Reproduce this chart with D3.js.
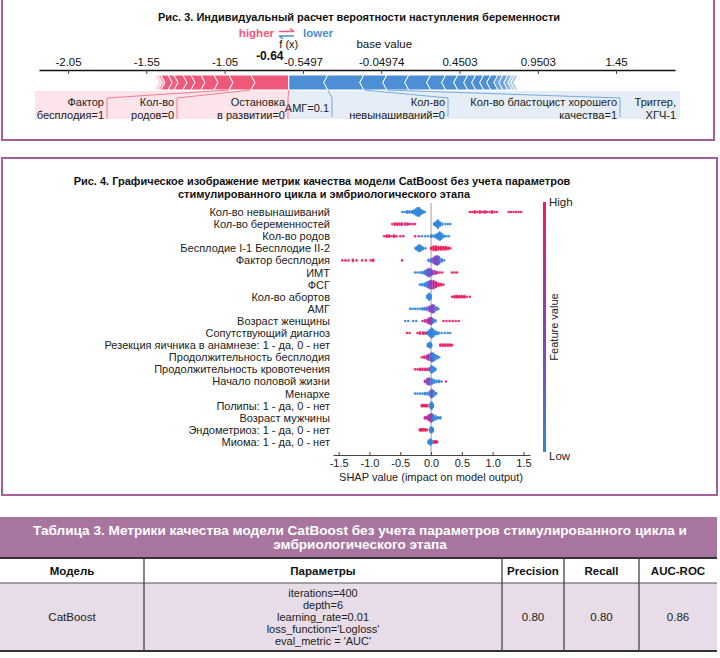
<!DOCTYPE html>
<html><head><meta charset="utf-8">
<script src="https://cdn.jsdelivr.net/npm/d3@7"></script>
<style>
body{margin:0;background:#fff}
svg{display:block;font-family:"Liberation Sans",Arial,sans-serif}
</style></head>
<body><svg id="c" width="720" height="658"></svg>
<script>
// ---------- DATA: Fig. 3 force plot ----------
const forceTicks = [-2.05, -1.55, -1.05, -0.5497, -0.04974, 0.4503, 0.9503, 1.45];
const forceTickLabels = ["-2.05", "-1.55", "-1.05", "-0.5497", "-0.04974", "0.4503", "0.9503", "1.45"];
const fxValue = -0.64;
const baseValue = -0.04974;
const redEffects = [0.243, 0.140, 0.096, 0.083, 0.064, 0.051, 0.057, 0.038, 0.045, 0.020, 0.015, 0.010, 0.006];
const blueEffects = [0.249, 0.230, 0.147, 0.140, 0.140, 0.096, 0.077, 0.064, 0.051, 0.051, 0.045, 0.045, 0.032, 0.032, 0.026, 0.019, 0.019];
const redLabels = [["Остановка", "в развитии=0"], ["Кол-во", "родов=0"], ["Фактор", "бесплодия=1"]];
const blueLabels = [["АМГ=0.1"], ["Кол-во", "невынашиваний=0"], ["Кол-во бластоцист хорошего", "качества=1"], ["Триггер,", "ХГЧ-1"]];

// ---------- DATA: Fig. 4 SHAP summary ----------
const shapFeatures = ["Кол-во невынашиваний", "Кол-во беременностей", "Кол-во родов", "Бесплодие I-1 Бесплодие II-2",
  "Фактор бесплодия", "ИМТ", "ФСГ", "Кол-во абортов", "АМГ", "Возраст женщины", "Сопутствующий диагноз",
  "Резекция яичника в анамнезе: 1 - да, 0 - нет", "Продолжительность бесплодия", "Продолжительность кровотечения",
  "Начало половой жизни", "Менархе", "Полипы: 1 - да, 0 - нет", "Возраст мужчины", "Эндометриоз: 1 - да, 0 - нет",
  "Миома: 1 - да, 0 - нет"];
const shapTicks = [-1.5, -1.0, -0.5, 0.0, 0.5, 1.0, 1.5];
const shapTickLabels = ["-1.5", "-1.0", "-0.5", "0.0", "0.5", "1.0", "1.5"];
// bins: [shap value, number of points, feature value 0..1]
const shapBins = [
  [[-0.47,1,0],[-0.43,1,0],[-0.39,2,0],[-0.35,2,0],[-0.31,2,0.05],[-0.28,3,0],[-0.25,5,0],[-0.22,7,0],[-0.19,7,0],[-0.16,4,0],[-0.13,2,0],[-0.10,1,0],
   [0.63,1,1],[0.67,1,1],[0.71,2,1],[0.75,1,1],[0.79,2,1],[0.83,1,1],[0.87,2,1],[0.91,1,1],[0.95,1,1],[0.99,2,1],[1.03,1,1],[1.07,1,1],
   [1.26,1,1],[1.30,1,1],[1.34,1,1],[1.38,1,1],[1.42,1,1],[1.46,1,1]],
  [[-0.63,1,1],[-0.59,2,1],[-0.55,2,1],[-0.51,2,1],[-0.47,2,0.9],[-0.42,2,0.4],[-0.38,2,1],[-0.34,1,1],[-0.30,1,1],[-0.26,1,1],
   [0.05,2,0],[0.08,4,0],[0.11,7,0],[0.14,4,0],[0.18,2,0],[0.23,1,0],[0.27,1,0],[0.31,1,0]],
  [[-0.76,1,1],[-0.72,2,1],[-0.68,2,1],[-0.64,1,1],[-0.60,2,1],[-0.56,1,1],[-0.50,1,1],[-0.45,1,1],[-0.26,1,1],[-0.20,1,0.7],
   [-0.15,1,0],[-0.10,1,0],[-0.05,1,0],[0.0,2,0.1],[0.04,2,0],[0.08,3,0],[0.11,5,0],[0.14,7,0],[0.17,5,0],[0.21,2,0],[0.25,1,0],[0.29,1,0]],
  [[-0.25,2,0],[-0.22,4,0],[-0.19,6,0],[-0.16,4,0],[-0.13,2,0],[-0.09,1,0],
   [0.0,2,1],[0.04,4,1],[0.08,4,1],[0.12,3,1],[0.16,3,1],[0.20,3,1],[0.24,3,1],[0.28,2,1],[0.31,1,1]],
  [[-1.44,1,1],[-1.39,1,1],[-1.34,1,1],[-1.27,2,1],[-1.21,1,1],[-1.12,1,1],[-1.06,1,1],[-0.98,1,1],[-0.94,2,1],[-0.47,1,1],
   [-0.04,2,0],[0.0,3,0.2],[0.04,5,0.4],[0.07,7,0.5],[0.10,8,0.4],[0.13,6,0.2],[0.17,3,0.1],[0.21,1,0]],
  [[-0.26,1,0],[-0.22,1,0],[-0.18,1,0],[-0.14,2,0],[-0.10,3,0.1],[-0.07,5,0.2],[-0.04,7,0.3],[-0.01,6,0.4],[0.02,4,0.5],[0.06,3,0.6],
   [0.10,2,0.9],[0.14,1,1],[0.18,1,1],[0.34,1,1],[0.38,1,1],[0.42,1,1]],
  [[-0.18,1,0],[-0.14,2,0],[-0.10,3,0],[-0.06,5,0.1],[-0.03,6,0.3],[0.0,7,0.5],[0.04,7,0.7],[0.08,5,0.85],[0.12,3,1],[0.16,2,1],[0.20,1,1]],
  [[-0.06,3,0],[-0.03,6,0],[-0.01,4,0],
   [0.34,1,1],[0.38,2,1],[0.42,2,1],[0.46,2,1],[0.50,2,1],[0.54,2,1],[0.58,1,1],[0.63,1,1]],
  [[-0.34,1,0],[-0.30,1,0],[-0.26,1,0],[-0.22,1,0],[-0.18,1,0],[-0.14,2,0],[-0.10,2,0.1],[-0.06,3,0.2],[-0.02,5,0.5],[0.02,7,0.5],
   [0.05,6,0.3],[0.09,3,0.1],[0.12,1,0]],
  [[-0.42,1,0],[-0.37,1,0],[-0.29,1,0],[-0.24,1,0],[-0.14,1,0.6],[-0.10,2,0.7],[-0.06,3,0.8],[-0.03,5,0.8],[0.0,6,0.5],[0.03,4,0.2],
   [0.07,2,0],[0.20,1,1],[0.25,1,1],[0.30,1,1],[0.35,1,1],[0.40,1,1],[0.45,1,1]],
  [[-0.39,1,1],[-0.35,1,1],[-0.22,1,1],[-0.18,2,1],[-0.13,2,0.9],[-0.09,2,0.6],[-0.05,3,0.2],[-0.02,6,0],[0.01,8,0],[0.04,6,0],
   [0.08,3,0],[0.12,2,0],[0.17,1,0],[0.22,1,0],[0.27,1,0],[0.31,1,0]],
  [[-0.05,3,0],[-0.02,5,0],[0.0,3,0],[0.15,2,1],[0.19,2,1],[0.23,2,1],[0.27,2,1],[0.31,2,1],[0.34,1,1]],
  [[-0.15,1,1],[-0.11,2,0.9],[-0.07,3,0.7],[-0.04,5,0.6],[0.0,7,0.3],[0.03,7,0.1],[0.06,5,0],[0.10,3,0],[0.13,1,0]],
  [[-0.26,1,1],[-0.22,1,1],[-0.18,2,1],[-0.14,2,0.7],[-0.10,2,1],[-0.06,2,0.8],[-0.02,3,0.6],[0.01,6,0],[0.04,4,0],[0.07,2,0]],
  [[-0.10,2,0.6],[-0.06,5,0.6],[-0.03,6,0.4],[0.01,5,0.1],[0.05,3,0],[0.09,2,0],[0.13,2,0],[0.17,1,0],[0.24,1,1]],
  [[-0.26,1,0],[-0.22,1,0],[-0.18,1,0],[-0.14,1,0],[-0.10,2,0],[-0.06,2,0],[-0.02,4,0.1],[0.01,7,0.3],[0.04,5,0.1],[0.08,2,0]],
  [[-0.15,2,1],[-0.12,2,1],[-0.09,2,1],[-0.06,2,1],[-0.01,4,0],[0.01,6,0],[0.03,3,0]],
  [[-0.10,2,0.6],[-0.06,3,0.8],[-0.03,5,0.8],[0.0,7,0.5],[0.03,6,0.1],[0.07,4,0],[0.11,2,0],[0.15,2,0]],
  [[-0.18,2,1],[-0.15,2,1],[-0.12,2,1],[-0.09,2,1],[-0.06,1,1],[-0.01,4,0],[0.01,5,0],[0.03,3,0]],
  [[-0.04,3,0],[-0.01,5,0],[0.01,3,0],[0.05,2,1],[0.08,2,1],[0.10,1,1]]
];

// ---------- DATA: Table 3 ----------
const tableTitle = ["Таблица 3. Метрики качества модели CatBoost без учета параметров стимулированного цикла и", "эмбриологического этапа"];
const tableHeaders = ["Модель", "Параметры", "Precision", "Recall", "AUC-ROC"];
const tableModel = "CatBoost";
const tableParams = ["iterations=400", "depth=6", "learning_rate=0.01", "loss_function='Logloss'", "eval_metric =  'AUC'"];
const tableMetrics = ["0.80", "0.80", "0.86"];

// ---------- DRAW ----------
const svg = d3.select("#c");
const frame = "#a65e9e";
const RED = "#f0587a", BLUE = "#4c8fd4";

// Panel frames
svg.append("rect").attr("x", 2).attr("y", -4).attr("width", 712).attr("height", 144)
  .attr("fill", "none").attr("stroke", frame).attr("stroke-width", 2);
svg.append("rect").attr("x", 2).attr("y", 158).attr("width", 715).attr("height", 337)
  .attr("fill", "none").attr("stroke", frame).attr("stroke-width", 2);

// ===== Fig. 3 =====
svg.append("text").attr("x", 359).attr("y", 21).attr("text-anchor", "middle")
  .attr("font-size", 11).attr("font-weight", "bold").attr("fill", "#111")
  .text("Рис. 3. Индивидуальный расчет вероятности наступления беременности");

svg.append("text").attr("x", 274).attr("y", 37).attr("text-anchor", "end").attr("font-size", 11.5)
  .attr("font-weight", "bold").attr("fill", RED).text("higher");
svg.append("text").attr("x", 303).attr("y", 37).attr("font-size", 11.5)
  .attr("font-weight", "bold").attr("fill", BLUE).text("lower");
// arrows
svg.append("path").attr("d", "M279,31.5 L294,31.5 M290,28.5 L294,31.5").attr("stroke", RED).attr("stroke-width", 1.5).attr("fill", "none");
svg.append("path").attr("d", "M279,36 L294,36 M283,39 L279,36").attr("stroke", BLUE).attr("stroke-width", 1.5).attr("fill", "none");

const fxs = d3.scaleLinear().domain([-2.2355, 1.8264]).range([39, 675]);
const axisG = svg.append("g").attr("transform", "translate(0,70)")
  .call(d3.axisTop(fxs).tickValues(forceTicks).tickFormat((d, i) => forceTickLabels[i])
    .tickSizeInner(-4).tickSizeOuter(0).tickPadding(4));
axisG.select(".domain").attr("stroke", "#111").attr("stroke-width", 1.3);
axisG.selectAll(".tick line").attr("stroke", "#444");
axisG.selectAll(".tick text").attr("font-size", 11.5).attr("fill", "#111").attr("font-family", "Liberation Sans, Arial, sans-serif");

svg.append("text").attr("x", fxs(fxValue)).attr("y", 47.5).attr("text-anchor", "middle")
  .attr("font-size", 11).attr("fill", "#111").text("f (x)");
svg.append("text").attr("x", fxs(fxValue) - 19).attr("y", 59.5).attr("text-anchor", "middle")
  .attr("font-size", 12).attr("font-weight", "bold").attr("fill", "#111").text(fxValue.toFixed(2));
svg.append("text").attr("x", fxs(baseValue) + 3).attr("y", 48).attr("text-anchor", "middle")
  .attr("font-size", 11.5).attr("fill", "#111").text("base value");

// label backgrounds
const yTop = 75, yBot = 90, chev = 4;
svg.append("rect").attr("x", 35).attr("y", 91).attr("width", fxs(fxValue) - 35).attr("height", 28).attr("fill", "#fce4ea");
svg.append("rect").attr("x", fxs(fxValue)).attr("y", 91).attr("width", 680 - fxs(fxValue)).attr("height", 28).attr("fill", "#e5edf6");

// red segments
let cur = fxValue;
const redSegs = redEffects.map((e, i) => { const s = { hi: cur, lo: cur - e, e, i }; cur -= e; return s; });
cur = fxValue;
const blueSegs = blueEffects.map((e, i) => { const s = { lo: cur, hi: cur + e, e, i }; cur += e; return s; });
const ym = (yTop + yBot) / 2;
svg.append("g").selectAll("path").data(redSegs).join("path")
  .attr("d", s => {
    const l = fxs(s.lo), r = fxs(s.hi);
    const rc = s.i === 0 ? r : r + chev;
    return `M${l},${yTop} L${r},${yTop} L${rc},${ym} L${r},${yBot} L${l},${yBot} L${l + chev},${ym} Z`;
  })
  .attr("fill", RED).attr("stroke", "#fff").attr("stroke-width", 1)
  .attr("opacity", s => Math.min(1, s.e / 0.04));
svg.append("g").selectAll("path").data(blueSegs).join("path")
  .attr("d", s => {
    const l = fxs(s.lo), r = fxs(s.hi);
    const lc = s.i === 0 ? l : l - chev;
    return `M${l},${yTop} L${r},${yTop} L${r - chev},${ym} L${r},${yBot} L${l},${yBot} L${lc},${ym} Z`;
  })
  .attr("fill", BLUE).attr("stroke", "#fff").attr("stroke-width", 1)
  .attr("opacity", s => Math.min(1, s.e / 0.04));

// labels (layout anchors)
const redLabelRight = [285, 174, 104];
const blueLabelRight = [329, 445, 617, 676];
const labelG = svg.append("g").attr("font-size", 11).attr("fill", "#222");
redLabels.forEach((lines, i) => {
  lines.forEach((t, k) => labelG.append("text").attr("x", redLabelRight[i]).attr("y", 106 + k * 12.5)
    .attr("text-anchor", "end").text(t));
  const sx = fxs(redSegs[i].hi);
  const lx = redLabelRight[i] + 3;
  svg.append("path").attr("d", `M${sx},${yBot} L${lx},98 L${lx},119`)
    .attr("stroke", "#f27d93").attr("stroke-width", 1).attr("fill", "none");
});
blueLabels.forEach((lines, i) => {
  const y0 = lines.length === 1 ? 112 : 106;
  lines.forEach((t, k) => labelG.append("text").attr("x", blueLabelRight[i]).attr("y", y0 + k * 12.5)
    .attr("text-anchor", "end").text(t));
  if (i < 3) {
    const sx = fxs(blueSegs[i].hi);
    const lx = blueLabelRight[i] + 3;
    svg.append("path").attr("d", `M${sx},${yBot} L${lx},98 L${lx},117`)
      .attr("stroke", "#79a9dc").attr("stroke-width", 1).attr("fill", "none");
  }
});

// ===== Fig. 4 =====
const t4 = svg.append("g").attr("font-size", 11).attr("font-weight", "bold").attr("fill", "#111").attr("text-anchor", "middle");
t4.append("text").attr("x", 322).attr("y", 185).text("Рис. 4. Графическое изображение метрик качества модели CatBoost без учета параметров");
t4.append("text").attr("x", 324).attr("y", 198).text("стимулированного цикла и эмбриологического этапа");

const xs = d3.scaleLinear().domain([-1.592, 1.606]).range([333, 530]);
const ys = d3.scalePoint().domain(shapFeatures).range([212, 442]);
const fvColor = d3.scaleLinear().domain([0, 0.5, 1]).range(["#2f86dd", "#8a3dc4", "#f0195c"]).interpolate(d3.interpolateRgb);

svg.append("line").attr("x1", xs(0)).attr("x2", xs(0)).attr("y1", 203).attr("y2", 455)
  .attr("stroke", "#a0a0a0").attr("stroke-width", 1);

svg.append("g").attr("font-size", 11).attr("fill", "#222").attr("text-anchor", "end")
  .selectAll("text").data(shapFeatures).join("text")
  .attr("x", 330).attr("y", d => ys(d) + 4).text(d => d);

const dots = [];
shapBins.forEach((bins, r) => {
  const y0 = ys(shapFeatures[r]);
  bins.forEach(([v, n, fv]) => {
    for (let k = 0; k < n; k++) dots.push({ x: xs(v), y: y0 + (k - (n - 1) / 2) * 1.2, c: fvColor(fv) });
  });
});
svg.append("g").selectAll("circle").data(dots).join("circle")
  .attr("cx", d => d.x).attr("cy", d => d.y).attr("r", 1.3).attr("fill", d => d.c).attr("opacity", 0.9);

const xAxisG = svg.append("g").attr("transform", "translate(0,455)")
  .call(d3.axisBottom(xs).tickValues(shapTicks).tickFormat((d, i) => shapTickLabels[i]).tickSizeInner(-3).tickSizeOuter(0).tickPadding(4));
xAxisG.select(".domain").attr("stroke", "#444");
xAxisG.selectAll(".tick line").attr("stroke", "#444");
xAxisG.selectAll(".tick text").attr("font-size", 11).attr("fill", "#222").attr("font-family", "Liberation Sans, Arial, sans-serif");
svg.append("text").attr("x", 431).attr("y", 481).attr("text-anchor", "middle").attr("font-size", 11).attr("fill", "#222")
  .text("SHAP value (impact on model output)");

// colorbar
const defs = svg.append("defs");
const grad = defs.append("linearGradient").attr("id", "cb").attr("x1", 0).attr("x2", 0).attr("y1", 1).attr("y2", 0);
[0, 0.25, 0.5, 0.75, 1].forEach(t => grad.append("stop").attr("offset", t).attr("stop-color", fvColor(t)));
svg.append("rect").attr("x", 543).attr("y", 202).attr("width", 3).attr("height", 250).attr("fill", "url(#cb)");
svg.append("text").attr("x", 549).attr("y", 206).attr("font-size", 11.5).attr("fill", "#222").text("High");
svg.append("text").attr("x", 549).attr("y", 460).attr("font-size", 11.5).attr("fill", "#222").text("Low");
svg.append("text").attr("transform", "translate(558,327) rotate(-90)").attr("text-anchor", "middle")
  .attr("font-size", 11).attr("fill", "#222").text("Feature value");

// ===== Table 3 =====
const colX = [0, 144, 502, 564, 639, 717];
svg.append("rect").attr("x", 0).attr("y", 517).attr("width", 717).attr("height", 41).attr("fill", "#a8759f");
tableTitle.forEach((t, i) => svg.append("text").attr("x", 360).attr("y", 535 + i * 14).attr("text-anchor", "middle")
  .attr("font-size", 13.6).attr("font-weight", "bold").attr("fill", "#fff").text(t));
svg.append("rect").attr("x", 0).attr("y", 583).attr("width", 717).attr("height", 68).attr("fill", "#e7dce7");
tableHeaders.forEach((h, i) => svg.append("text").attr("x", (colX[i] + colX[i + 1]) / 2).attr("y", 575)
  .attr("text-anchor", "middle").attr("font-size", 11.5).attr("font-weight", "bold").attr("fill", "#111").text(h));
svg.append("text").attr("x", (colX[0] + colX[1]) / 2).attr("y", 621).attr("text-anchor", "middle")
  .attr("font-size", 11.5).attr("fill", "#222").text(tableModel);
tableParams.forEach((p, i) => svg.append("text").attr("x", (colX[1] + colX[2]) / 2).attr("y", 597 + i * 12)
  .attr("text-anchor", "middle").attr("font-size", 11).attr("fill", "#222").text(p));
tableMetrics.forEach((m, i) => svg.append("text").attr("x", (colX[i + 2] + colX[i + 3]) / 2).attr("y", 621)
  .attr("text-anchor", "middle").attr("font-size", 11.5).attr("fill", "#222").text(m));
svg.append("line").attr("x1", 0).attr("x2", 717).attr("y1", 558).attr("y2", 558).attr("stroke", "#333").attr("stroke-width", 2);
svg.append("line").attr("x1", 0).attr("x2", 717).attr("y1", 583).attr("y2", 583).attr("stroke", "#555").attr("stroke-width", 1);
svg.append("line").attr("x1", 0).attr("x2", 717).attr("y1", 651).attr("y2", 651).attr("stroke", "#333").attr("stroke-width", 2);
colX.slice(1, 5).forEach(x => svg.append("line").attr("x1", x).attr("x2", x).attr("y1", 558).attr("y2", 651)
  .attr("stroke", "#444").attr("stroke-width", 1.3));
</script></body></html>
